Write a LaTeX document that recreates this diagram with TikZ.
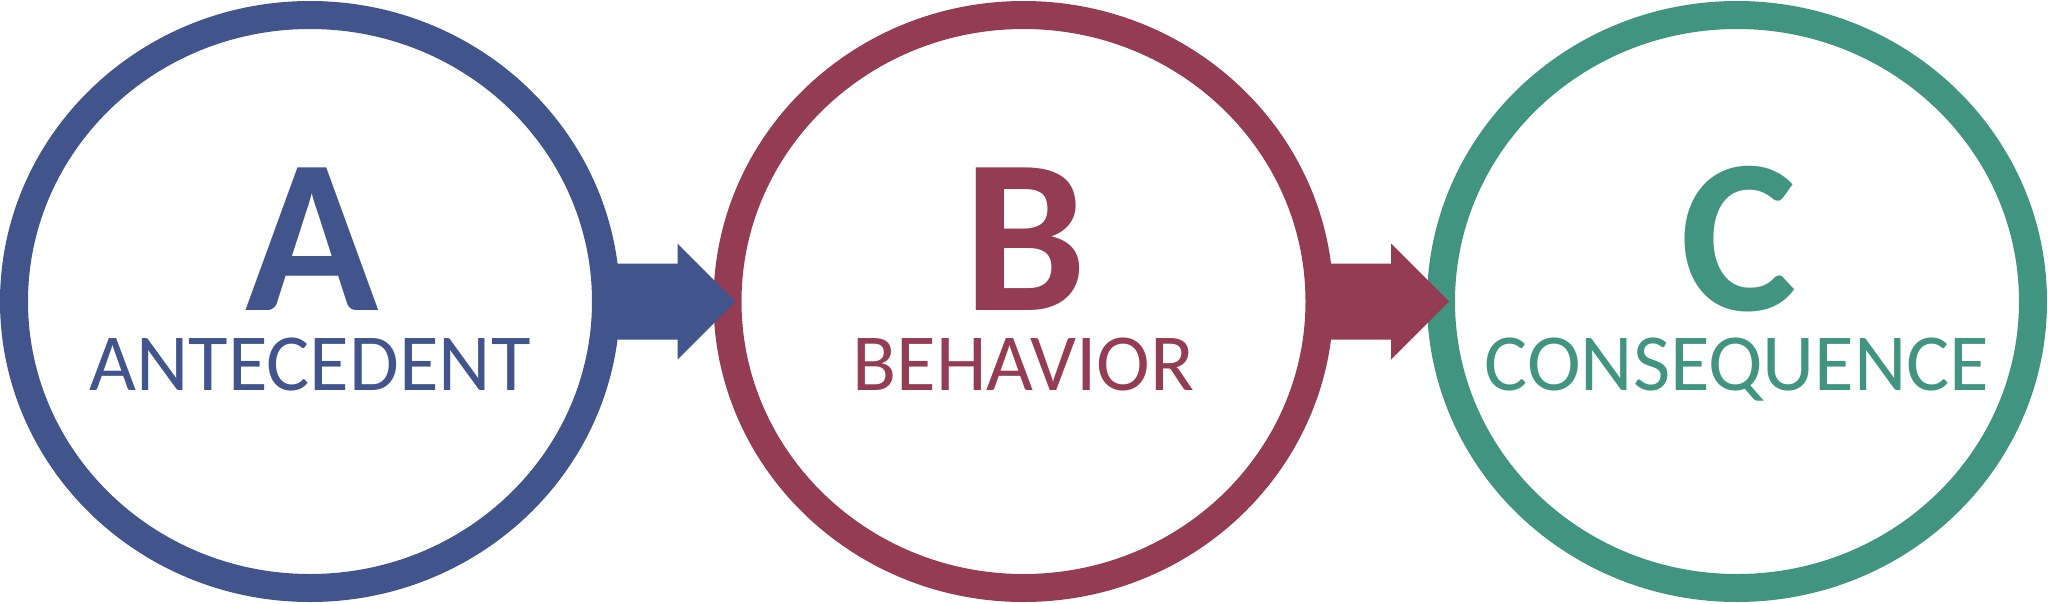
\documentclass[tikz,border=0pt]{standalone}
\usepackage{fontspec}
\setmainfont{Carlito}
\usepackage{tikz}
\usetikzlibrary{calc, positioning, shapes.geometric}

\definecolor{abcblue}{HTML}{41548C}
\definecolor{abcred}{HTML}{943C54}
\definecolor{abcgreen}{HTML}{409480}

\tikzset{
  ring/.style={ellipse, draw=#1, line width=7pt, inner sep=0pt, outer sep=0pt,
    minimum width=148pt, minimum height=143.25pt},
  letter/.style={text=#1, anchor=base, inner sep=0pt, text depth=0pt,
    font=\fontsize{55}{60}\selectfont\bfseries},
  word/.style={text=#1, anchor=base, inner sep=0pt, text height=13pt, text depth=0pt,
    font=\fontsize{20.25}{24}\selectfont},
}

% thick block arrow from one ring into the next
\newcommand{\fatarrow}[3]{%
  \fill[#3] ($(#1.east)+(0,38)$) -| ($(#2.west)+(-50,58)$) -- ($(#2.west)+(8,0)$)
    -- ($(#2.west)+(-50,-58)$) |- ($(#1.east)+(0,-38)$) -- cycle;}

\begin{document}
\begin{tikzpicture}[x=0.25pt, y=0.25pt, node distance=178.375pt, on grid]
  \useasboundingbox (0,0) rectangle (2048,603);

  \node[ring=abcblue] (A) at (310,301.5) {};
  \node[ring=abcred, right=of A] (B) {};
  \node[ring=abcgreen, right=of B] (C) {};

  \node[letter=abcblue] (Aletter) at ($(A)+(2,-8.5)$) {A};
  \node[word=abcblue] (Aword) at ($(A)+(0,-88.5)$) {ANTECEDENT};
  \node[letter=abcred] (Bletter) at ($(B)+(2,-8.5)$) {B};
  \node[word=abcred] (Bword) at ($(B)+(0,-88.5)$) {BEHAVIOR};
  \node[letter=abcgreen] (Cletter) at ($(C)+(2,-8.5)$) {C};
  \node[word=abcgreen] (Cword) at ($(C)+(0,-88.5)$) {CONSEQUENCE};

  \fatarrow{A}{B}{abcblue}
  \fatarrow{B}{C}{abcred}
\end{tikzpicture}
\end{document}
